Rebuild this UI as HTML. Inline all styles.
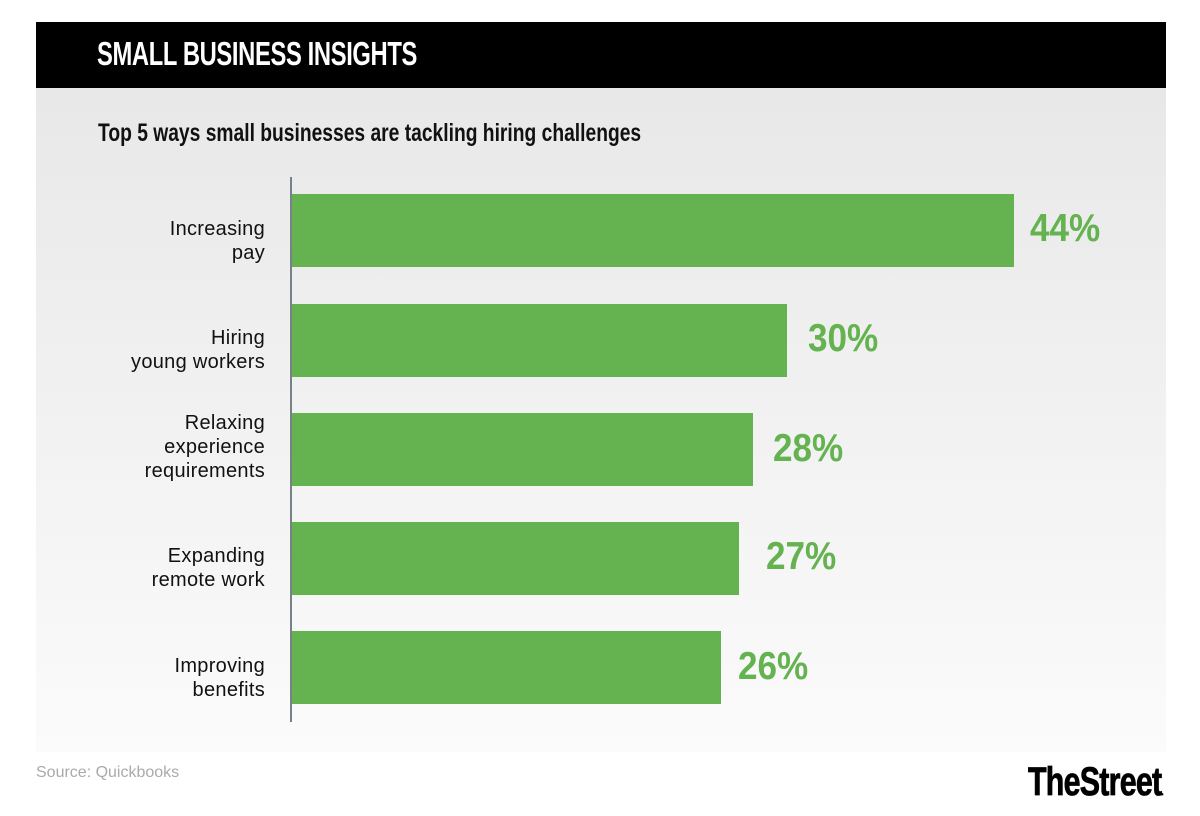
<!DOCTYPE html>
<html><head><style>
body{margin:0;width:1200px;height:816px;background:#fff;position:relative;overflow:hidden;font-family:"Liberation Sans",sans-serif}
.n{font-family:"Liberation Sans Narrow","Liberation Sans",sans-serif;font-weight:bold}
#hd{position:absolute;left:36px;top:22px;width:1130px;height:66px;background:#000}
#hd span{position:absolute;left:61px;top:13px;color:#fff;font-size:33px;letter-spacing:-0.5px;transform:scaleX(0.72);transform-origin:left;white-space:nowrap}
#pn{position:absolute;left:36px;top:88px;width:1130px;height:664px;background:linear-gradient(#e8e8e8,#fbfbfb)}
#sub{position:absolute;left:98px;top:119px;font-size:25px;color:#111;transform:scaleX(0.77);transform-origin:left;white-space:nowrap}
#ax{position:absolute;left:290px;top:177px;width:2px;height:545px;background:#7a8088}
.b{position:absolute;left:292px;height:73px;background:#64b250}
.v{position:absolute;font-size:39px;color:#64b250;transform:scaleX(0.9);transform-origin:left}
.l{position:absolute;right:935px;text-align:right;font-size:20px;color:#111;line-height:24px;letter-spacing:0.3px}
#src{position:absolute;left:36px;top:764px;font-size:16px;color:#aaa}
#logo{position:absolute;left:1028px;top:760px;font-size:40px;color:#000;letter-spacing:-1px;transform:scaleX(0.76);transform-origin:left;-webkit-text-stroke:0.8px #000}
</style></head><body>
<div id="hd"><span class="n">SMALL BUSINESS INSIGHTS</span></div>
<div id="pn"></div>
<div id="sub" class="n">Top 5 ways small businesses are tackling hiring challenges</div>
<div id="ax"></div>
<div class="b" style="top:194px;width:722px"></div>
<div class="b" style="top:304px;width:495px"></div>
<div class="b" style="top:413px;width:461px"></div>
<div class="b" style="top:522px;width:447px"></div>
<div class="b" style="top:631px;width:429px"></div>
<div class="v n" style="left:1030px;top:207px">44%</div>
<div class="v n" style="left:808px;top:317px">30%</div>
<div class="v n" style="left:773px;top:427px">28%</div>
<div class="v n" style="left:766px;top:535px">27%</div>
<div class="v n" style="left:738px;top:645px">26%</div>
<div class="l" style="top:217px">Increasing<br>pay</div>
<div class="l" style="top:326px">Hiring<br>young workers</div>
<div class="l" style="top:411px">Relaxing<br>experience<br>requirements</div>
<div class="l" style="top:544px">Expanding<br>remote work</div>
<div class="l" style="top:654px">Improving<br>benefits</div>
<div id="src">Source: Quickbooks</div>
<div id="logo" class="n">TheStreet<span style="font-size:10px">.</span></div>
</body></html>
